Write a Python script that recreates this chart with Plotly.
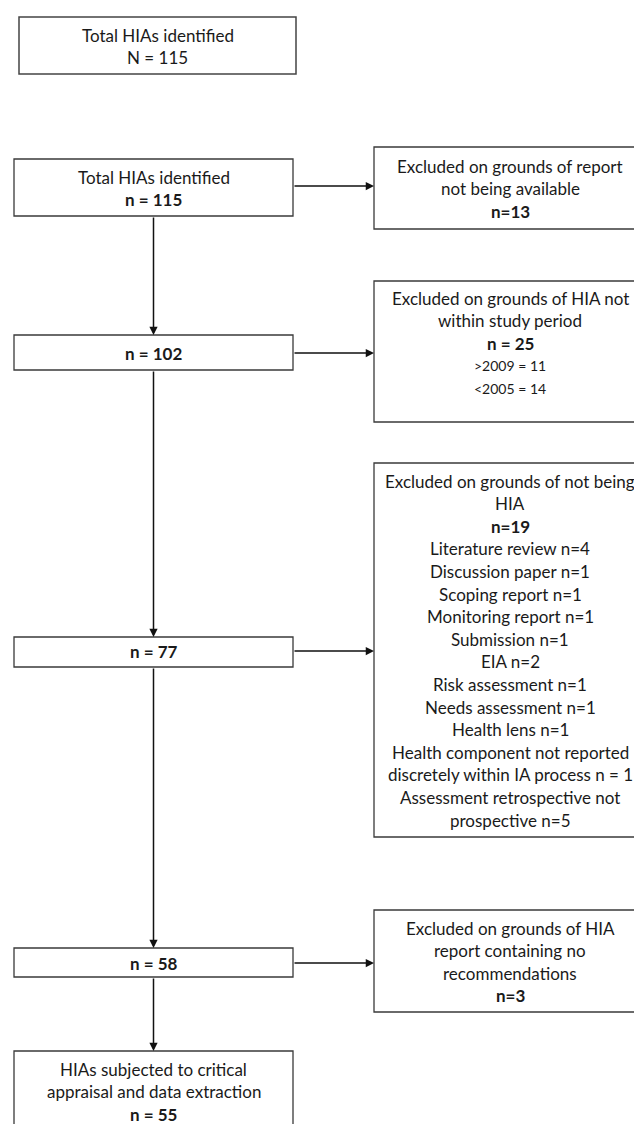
import plotly.graph_objects as go

# ---------------- data ----------------
total_identified = 115
stage_counts = [115, 102, 77, 58, 55]
stage_titles = ["Total HIAs identified", "", "", "",
                "HIAs subjected to critical\nappraisal and data extraction"]

excl_titles = [
    "Excluded on grounds of report\nnot being available",
    "Excluded on grounds of HIA not\nwithin study period",
    "Excluded on grounds of not being\nHIA",
    "Excluded on grounds of HIA\nreport containing no\nrecommendations",
]
excl_counts = [13, 25, 19, 3]
excl_count_fmt = ["n={}", "n = {}", "n={}", "n={}"]

period_labels = [">2009", "<2005"]
period_counts = [11, 14]

not_hia_categories = [
    "Literature review", "Discussion paper", "Scoping report",
    "Monitoring report", "Submission", "EIA", "Risk assessment",
    "Needs assessment", "Health lens",
    "Health component not reported\ndiscretely within IA process",
    "Assessment retrospective not\nprospective",
]
not_hia_counts = [4, 1, 1, 1, 1, 2, 1, 1, 1, 1, 5]
not_hia_eq = ["n=", "n=", "n=", "n=", "n=", "n=", "n=", "n=", "n=", "n = ", "n="]

# ---------------- layout (pixel geometry, page coordinates) ----------------
W, H = 642, 1124
OFF = 8  # browser body margin; axis ranges compensate so page px == data units
FONT = "Lato, 'Open Sans', sans-serif"
FS = 17
FS_SMALL = 14
TXT = "#1a1a1a"
BORDER = "#3a3a3a"
LINE_H = 22.6

left_x0, left_x1 = 14, 293
left_cx = (left_x0 + left_x1) / 2
right_x0, right_x1 = 374, 680
right_cx = 510

stage_boxes = [(159, 216), (335, 370), (637, 667), (948, 977), (1051, 1160)]
stage_text_top = [177, 353, 651, 963, 1069]
excl_boxes = [(147, 229), (281, 422), (463, 837), (910, 1012)]
excl_text_top = [166, 298, 481, 928]
arrow_y = [186, 353, 651, 963]

fig = go.Figure()
shapes = []
annotations = []


def rect(x0, y0, x1, y1, w=1.3, color=BORDER):
    shapes.append(dict(type="rect", xref="x", yref="y", x0=x0, y0=y0, x1=x1, y1=y1,
                       line=dict(color=color, width=w), fillcolor="white", layer="below"))


def text(x, y, s, bold=False, size=FS):
    if bold:
        s = "<b>" + s + "</b>"
    annotations.append(dict(x=x, y=y, xref="x", yref="y", text=s, showarrow=False,
                            xanchor="center", yanchor="middle",
                            font=dict(family=FONT, size=size, color=TXT)))


def lines_block(x, y0, items):
    y = y0
    for s, bold, size in items:
        text(x, y, s, bold, size)
        y += LINE_H


# top summary box
rect(19, 17, 296, 74, w=1.5, color="#444")
lines_block((19 + 296) / 2, 35, [("Total HIAs identified", False, FS),
                                 (f"N = {total_identified}", False, FS)])

# stage boxes
for i, ((y0, y1), ty) in enumerate(zip(stage_boxes, stage_text_top)):
    rect(left_x0, y0, left_x1, y1)
    items = []
    if stage_titles[i]:
        for part in stage_titles[i].split("\n"):
            items.append((part, False, FS))
    items.append((f"n = {stage_counts[i]}", True, FS))
    lines_block(left_cx, ty, items)

# exclusion boxes
for i, ((y0, y1), ty) in enumerate(zip(excl_boxes, excl_text_top)):
    rect(right_x0, y0, right_x1, y1)
    items = [(p, False, FS) for p in excl_titles[i].split("\n")]
    items.append((excl_count_fmt[i].format(excl_counts[i]), True, FS))
    if i == 1:
        for lab, v in zip(period_labels, period_counts):
            items.append((f"{lab} = {v}", False, FS_SMALL))
    if i == 2:
        for cat, eq, v in zip(not_hia_categories, not_hia_eq, not_hia_counts):
            parts = cat.split("\n")
            parts[-1] = parts[-1] + f" {eq}{v}"
            for p in parts:
                items.append((p, False, FS))
    lines_block(right_cx, ty, items)

# vertical connectors with arrows
for (a0, a1), (b0, b1) in zip(stage_boxes[:-1], stage_boxes[1:]):
    annotations.append(dict(x=left_cx, y=b0, ax=left_cx, ay=a1, xref="x", yref="y",
                            axref="x", ayref="y", showarrow=True, arrowhead=2,
                            arrowsize=1.1, arrowwidth=1.5, arrowcolor="#111", text=""))

# horizontal arrows
for y in arrow_y:
    annotations.append(dict(x=right_x0, y=y, ax=left_x1, ay=y, xref="x", yref="y",
                            axref="x", ayref="y", showarrow=True, arrowhead=2,
                            arrowsize=1.1, arrowwidth=1.5, arrowcolor="#111", text=""))

fig.update_layout(
    width=W, height=H,
    margin=dict(l=0, r=0, t=0, b=0),
    paper_bgcolor="white", plot_bgcolor="white",
    xaxis=dict(range=[OFF, W + OFF], visible=False, fixedrange=True),
    yaxis=dict(range=[H + OFF, OFF], visible=False, fixedrange=True),
    shapes=shapes, annotations=annotations, showlegend=False,
)

fig.write_html("out.html")
